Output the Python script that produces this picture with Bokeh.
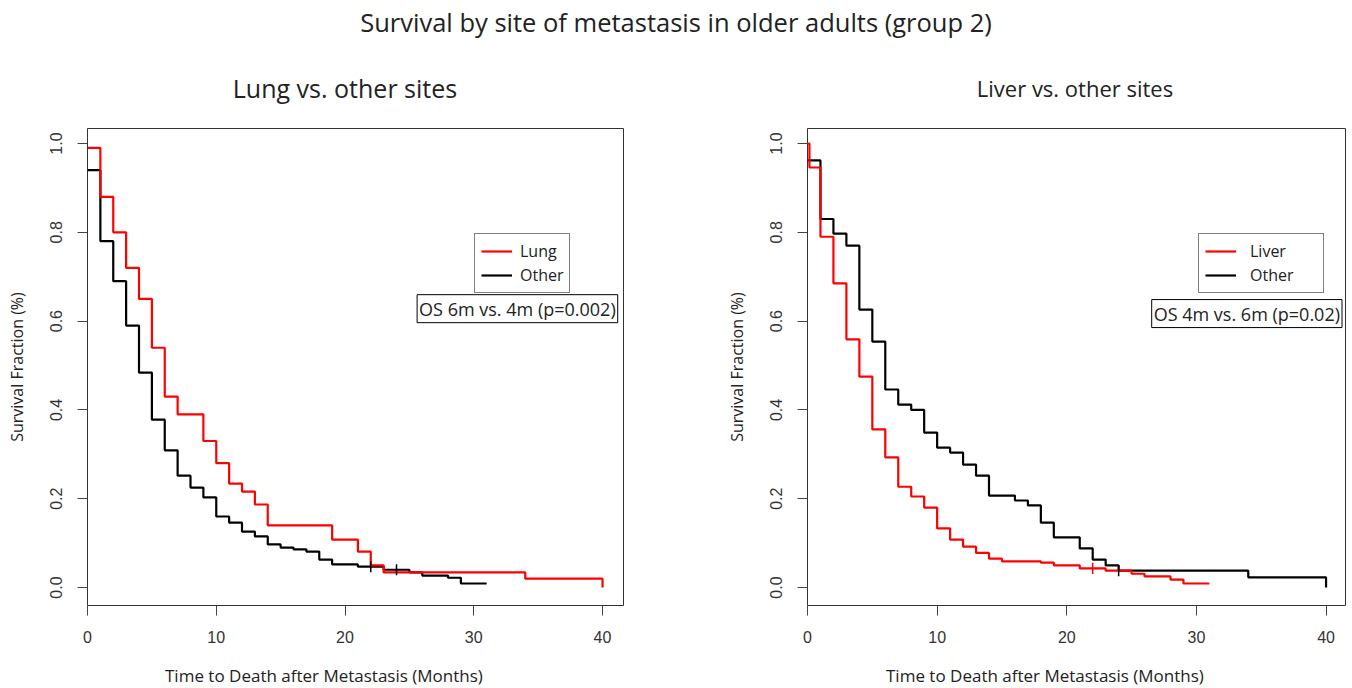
from bokeh.plotting import figure
from bokeh.models import Range1d, Legend, LegendItem, Label, Div, FixedTicker, PrintfTickFormatter
from bokeh.layouts import column, row
from bokeh.embed import file_html
from bokeh.resources import INLINE
import math

# ---------------- data ----------------
main_title = "Survival by site of metastasis in older adults (group 2)"
panel_titles = ["Lung vs. other sites", "Liver vs. other sites"]
x_label = "Time to Death after Metastasis (Months)"
y_label = "Survival Fraction (%)"
x_ticks = [0, 10, 20, 30, 40]
y_ticks = [0.0, 0.2, 0.4, 0.6, 0.8, 1.0]

# Left panel: Lung vs other
lung_t = [0, 1, 2, 3, 4, 5, 6, 7, 9, 10, 11, 12, 13, 14, 19, 21, 22, 23, 34, 40]
lung_s = [0.99, 0.88, 0.80, 0.72, 0.65, 0.54, 0.43, 0.39, 0.33, 0.28, 0.234, 0.216, 0.187,
          0.14, 0.108, 0.081, 0.05, 0.034, 0.02, 0.0]
other1_t = [0, 1, 2, 3, 4, 5, 6, 7, 8, 9, 10, 11, 12, 13, 14, 15, 16, 17, 18, 19, 21, 23,
            25, 26, 28, 29, 31]
other1_s = [0.94, 0.78, 0.69, 0.59, 0.484, 0.378, 0.309, 0.252, 0.225, 0.203, 0.16, 0.146,
            0.126, 0.115, 0.097, 0.09, 0.086, 0.081, 0.063, 0.052, 0.047, 0.04, 0.034, 0.027,
            0.022, 0.009, 0.009]
other1_cens_t = [22, 24]
other1_cens_s = [0.047, 0.04]

# Right panel: Liver vs other
liver_t = [0, 0.15, 1, 2, 3, 4, 5, 6, 7, 8, 9, 10, 11, 12, 13, 14, 15, 18, 19, 21, 23, 25,
           26, 28, 29, 31]
liver_s = [1.0, 0.946, 0.79, 0.685, 0.559, 0.475, 0.356, 0.293, 0.227, 0.205, 0.18, 0.133,
           0.108, 0.092, 0.078, 0.065, 0.059, 0.056, 0.05, 0.043, 0.038, 0.031, 0.025, 0.018,
           0.009, 0.009]
liver_cens_t = [22]
liver_cens_s = [0.043]
other2_t = [0, 1, 2, 3, 4, 5, 6, 7, 8, 9, 10, 11, 12, 13, 14, 16, 17, 18, 19, 21, 22, 23,
            24, 34, 40]
other2_s = [0.962, 0.83, 0.797, 0.77, 0.626, 0.554, 0.446, 0.412, 0.40, 0.349, 0.315, 0.304,
            0.277, 0.252, 0.207, 0.196, 0.185, 0.146, 0.113, 0.088, 0.063, 0.05, 0.038, 0.023,
            0.0]
other2_cens_t = [24]
other2_cens_s = [0.038]

TITLE_FONT = "Open Sans"
TICK_FONT = "Liberation Sans"


def make_panel(width, border_left, border_right, x_end,
               red_t, red_s, red_label, blk_t, blk_s, cens, os_text, os_x, os_y):
    p = figure(width=width, height=550, output_backend="svg", toolbar_location=None,
               x_range=Range1d(0, x_end), y_range=Range1d(-0.0405, 1.0338),
               min_border_left=border_left, min_border_right=border_right,
               min_border_top=18, min_border_bottom=55)
    p.grid.visible = False
    p.outline_line_color = "#333333"
    p.outline_line_width = 1

    for ax in (p.xaxis, p.yaxis):
        ax.axis_line_color = None
        ax.major_tick_out = 10
        ax.major_tick_in = 0
        ax.minor_tick_line_color = None
        ax.major_tick_line_color = "#444444"
        ax.major_label_text_font = TICK_FONT
        ax.major_label_text_font_size = "16px"
        ax.major_label_text_color = "#333333"
        ax.axis_label_text_font = TITLE_FONT
        ax.axis_label_text_font_style = "normal"
        ax.axis_label_text_color = "#222222"
    p.xaxis.ticker = FixedTicker(ticks=x_ticks)
    p.yaxis.ticker = FixedTicker(ticks=y_ticks)
    p.yaxis.formatter = PrintfTickFormatter(format="%.1f")
    p.yaxis.major_label_orientation = "vertical"
    p.xaxis.major_label_standoff = 15
    p.yaxis.major_label_standoff = 15
    p.yaxis.axis_label = y_label
    p.yaxis.axis_label_text_font_size = "16px"
    p.yaxis.axis_label_standoff = 20

    r_blk = p.step(blk_t, blk_s, mode="after", line_color="black", line_width=2.2)
    r_red = p.step(red_t, red_s, mode="after", line_color="red", line_width=2.2)
    for (ct, cs, col) in cens:
        p.scatter(ct, cs, marker="dash", angle=math.pi / 2, size=11, line_color=col,
                  line_width=1.5)

    legend = Legend(items=[LegendItem(label=red_label, renderers=[r_red]),
                           LegendItem(label="Other", renderers=[r_blk])],
                    location=(0, 0))
    legend.label_text_font = TITLE_FONT
    legend.label_text_font_size = "16px"
    legend.label_text_color = "#222222"
    legend.border_line_color = "black"
    legend.border_line_width = 1
    legend.background_fill_alpha = 1.0
    legend.glyph_width = 31
    legend.glyph_height = 20
    legend.label_height = 20
    legend.spacing = 2
    legend.padding = 6
    legend.margin = 0
    p.add_layout(legend)

    lab = Label(x=os_x, y=os_y, text=os_text, text_baseline="middle", text_align="left",
                text_font=TITLE_FONT, text_font_size="18px", text_color="#222222",
                border_line_color="black", border_line_width=1,
                background_fill_color="white", padding=2)
    p.add_layout(lab)
    return p, legend


p1, lg1 = make_panel(700, 87, 77, 41.63,
                     lung_t, lung_s, "Lung", other1_t, other1_s,
                     [(other1_cens_t, other1_cens_s, "black")],
                     "OS 6m vs. 4m (p=0.002)", 25.6, 0.628)
lg1.location = (387, 312)
lg1.label_width = 41
lg1.label_standoff = 8

p2, lg2 = make_panel(652, 107, 7, 41.5,
                     liver_t, liver_s, "Liver", other2_t, other2_s,
                     [(liver_cens_t, liver_cens_s, "red"), (other2_cens_t, other2_cens_s, "black")],
                     "OS 4m vs. 6m (p=0.02)", 26.55, 0.617)
lg2.location = (391, 312)
lg2.label_width = 67
lg2.label_standoff = 14

box = "position:absolute;white-space:nowrap;"
top_html = (
    '<div style="position:relative;width:1352px;height:110px;font-family:\'Open Sans\';color:#222222;">'
    f'<div style="{box}left:0px;top:8px;width:1352px;text-align:center;font-size:25.5px;line-height:28px;">{main_title}</div>'
    f'<div style="{box}left:195px;top:73px;width:300px;text-align:center;font-size:25px;line-height:30px;">{panel_titles[0]}</div>'
    f'<div style="{box}left:925px;top:73px;width:300px;text-align:center;font-size:22px;line-height:30px;">{panel_titles[1]}</div>'
    '</div>'
)
bottom_html = (
    '<div style="position:relative;width:1352px;height:28px;font-family:\'Open Sans\';color:#222222;">'
    f'<div style="{box}left:165px;top:4px;font-size:17px;line-height:24px;">{x_label}</div>'
    f'<div style="{box}left:886px;top:4px;font-size:17px;line-height:24px;">{x_label}</div>'
    '</div>'
)
top_div = Div(text=top_html, width=1352, height=110, margin=(0, 0, 0, 0))
bottom_div = Div(text=bottom_html, width=1352, height=28, margin=(0, 0, 0, 0))

layout = column(top_div, row(p1, p2), bottom_div)
open("out.html", "w").write(file_html(layout, INLINE))
